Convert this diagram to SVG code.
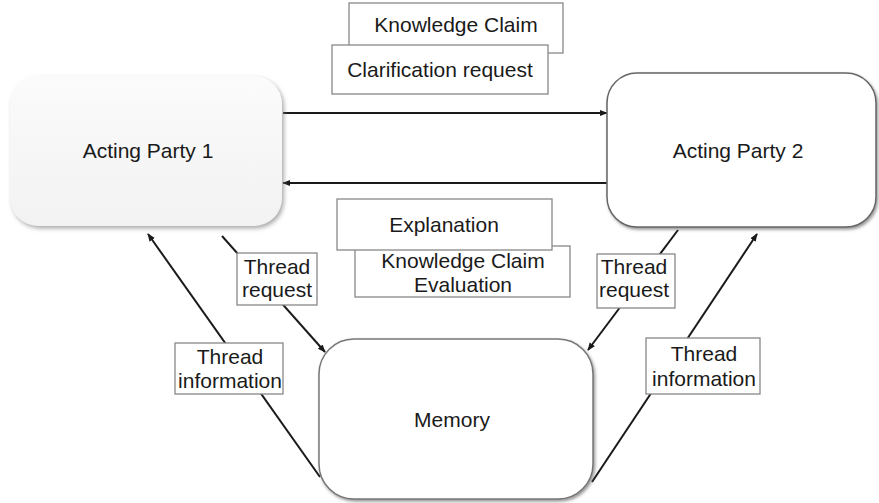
<svg xmlns="http://www.w3.org/2000/svg" width="879" height="503" viewBox="0 0 879 503">
<defs>
<style>
text{font-family:"Liberation Sans",Arial,sans-serif;font-size:21px;fill:#1a1a1a;text-anchor:middle}
.lbl{fill:#fff;stroke:#888;stroke-width:1.3}
.conn{stroke:#1a1a1a;stroke-width:2;fill:none;marker-end:url(#ah)}
</style>
<marker id="ah" viewBox="0 0 10 10" refX="9" refY="5" markerWidth="4" markerHeight="4" orient="auto" markerUnits="strokeWidth">
<path d="M0,1 L10,5 L0,9 z" fill="#1a1a1a"/>
</marker>
<filter id="sh" x="-10%" y="-10%" width="125%" height="130%">
<feDropShadow dx="1.5" dy="2" stdDeviation="1.5" flood-color="#555" flood-opacity="0.6"/>
</filter>
<filter id="sh2" x="-10%" y="-10%" width="125%" height="130%">
<feDropShadow dx="2" dy="2.5" stdDeviation="2" flood-color="#888" flood-opacity="0.7"/>
</filter>
<linearGradient id="g1" x1="0" y1="0" x2="0" y2="1">
<stop offset="0" stop-color="#fbfbfb"/>
<stop offset="1" stop-color="#f2f2f2"/>
</linearGradient>
</defs>
<rect width="879" height="503" fill="#fff"/>
<g id="connectors">
<line class="conn" x1="283" y1="113" x2="607" y2="113"/>
<line class="conn" x1="607" y1="183" x2="283" y2="183"/>
<line class="conn" x1="222" y1="236" x2="325" y2="352"/>
<line class="conn" x1="320" y1="477" x2="148" y2="234"/>
<line class="conn" x1="678" y1="230" x2="588" y2="350"/>
<line class="conn" x1="592" y1="482" x2="757" y2="234"/>
</g>
<g id="acting-party-1">
<rect x="10" y="76" width="272" height="150" rx="28" fill="url(#g1)" filter="url(#sh2)"/>
<text x="148" y="158">Acting Party 1</text>
</g>
<g id="acting-party-2">
<rect x="607" y="73" width="269" height="154" rx="30" fill="#fff" stroke="#666" stroke-width="1.5" filter="url(#sh)"/>
<text x="738" y="158">Acting Party 2</text>
</g>
<g id="memory">
<rect x="319" y="339" width="274" height="160" rx="35" fill="#fff" stroke="#777" stroke-width="1.5" filter="url(#sh)"/>
<text x="452" y="427">Memory</text>
</g>
<g id="knowledge-claim">
<rect class="lbl" x="349" y="3" width="214" height="50"/>
<text x="456" y="32">Knowledge Claim</text>
</g>
<g id="clarification-request">
<rect class="lbl" x="332" y="45" width="216" height="49"/>
<text x="440" y="77">Clarification request</text>
</g>
<g id="knowledge-claim-evaluation">
<rect class="lbl" x="355" y="246" width="215" height="51"/>
<text x="463" y="268">Knowledge Claim</text>
<text x="463" y="292">Evaluation</text>
</g>
<g id="explanation">
<rect class="lbl" x="337" y="199" width="215" height="51"/>
<text x="444" y="232">Explanation</text>
</g>
<g id="thread-request-1">
<rect class="lbl" x="237" y="253" width="80" height="52"/>
<text x="277" y="274">Thread</text>
<text x="277" y="297">request</text>
</g>
<g id="thread-request-2">
<rect class="lbl" x="597" y="254" width="78" height="54"/>
<text x="634" y="274">Thread</text>
<text x="634" y="297">request</text>
</g>
<g id="thread-information-1">
<rect class="lbl" x="175" y="343" width="108" height="51"/>
<text x="230" y="364">Thread</text>
<text x="230" y="388">information</text>
</g>
<g id="thread-information-2">
<rect class="lbl" x="646" y="338" width="114" height="56"/>
<text x="704" y="361">Thread</text>
<text x="704" y="386">information</text>
</g>
</svg>
